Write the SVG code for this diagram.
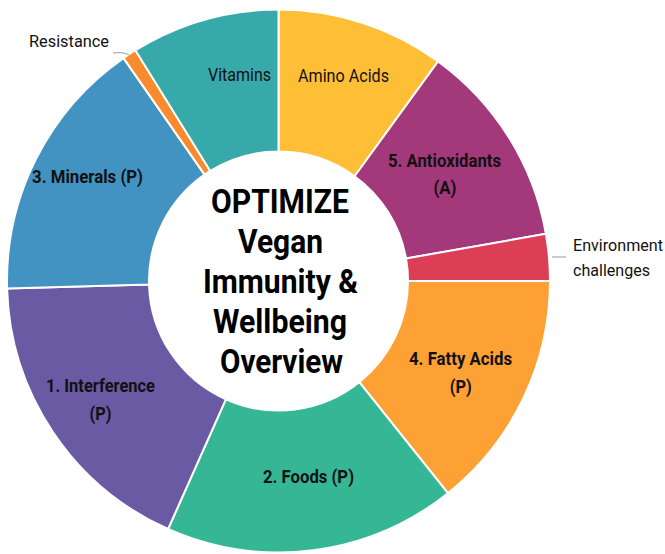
<svg xmlns="http://www.w3.org/2000/svg" width="665" height="554" viewBox="0 0 665 554">
<style>
.seg{stroke:#fff;stroke-width:2;stroke-linejoin:round}
.lbl{font-family:Roboto,"Liberation Sans",sans-serif;font-size:18px;font-weight:bold;fill:#111;text-anchor:middle}
.reg{font-family:Roboto,"Liberation Sans",sans-serif;font-size:17.5px;fill:#111;text-anchor:middle}
.out{font-family:Roboto,"Liberation Sans",sans-serif;font-size:16.5px;fill:#111}
.title{font-family:Roboto,"Liberation Sans",sans-serif;font-size:32.5px;font-weight:bold;fill:#000;text-anchor:middle}
.lead{fill:none;stroke:#999;stroke-width:1}
</style>
<rect width="665" height="554" fill="#fff"/>
<g id="amino-acids">
<path class="seg" fill="#FEBF36" d="M278.5,9.5 A271.5,271.5 0 0 1 438.08,61.35 L354.62,176.23 A129.5,129.5 0 0 0 278.5,151.5 Z"/>
<text class="reg" x="343.5" y="82" textLength="91" lengthAdjust="spacingAndGlyphs">Amino Acids</text>
</g>
<g id="antioxidants">
<path class="seg" fill="#A3387A" d="M438.08,61.35 A271.5,271.5 0 0 1 545.88,233.85 L406.03,258.51 A129.5,129.5 0 0 0 354.62,176.23 Z"/>
<text class="lbl" x="444.5" y="167" textLength="113" lengthAdjust="spacingAndGlyphs">5. Antioxidants</text>
<text class="lbl" x="445" y="194" textLength="23" lengthAdjust="spacingAndGlyphs">(A)</text>
</g>
<g id="environment">
<path class="seg" fill="#DC3F55" d="M545.88,233.85 A271.5,271.5 0 0 1 550,281 L408,281 A129.5,129.5 0 0 0 406.03,258.51 Z"/>
<text class="out" x="573" y="251" textLength="90" lengthAdjust="spacingAndGlyphs">Environment</text>
<text class="out" x="573" y="276" textLength="77" lengthAdjust="spacingAndGlyphs">challenges</text>
</g>
<g id="fatty-acids">
<path class="seg" fill="#FEA135" d="M550,281 A271.5,271.5 0 0 1 447.88,493.18 L359.29,382.21 A129.5,129.5 0 0 0 408,281 Z"/>
<text class="lbl" x="460.5" y="365" textLength="103" lengthAdjust="spacingAndGlyphs">4. Fatty Acids</text>
<text class="lbl" x="460.7" y="393" textLength="22" lengthAdjust="spacingAndGlyphs">(P)</text>
</g>
<g id="foods">
<path class="seg" fill="#35B796" d="M447.88,493.18 A271.5,271.5 0 0 1 168.07,529.03 L225.83,399.3 A129.5,129.5 0 0 0 359.29,382.21 Z"/>
<text class="lbl" x="308.5" y="483" textLength="91" lengthAdjust="spacingAndGlyphs">2. Foods (P)</text>
</g>
<g id="interference">
<path class="seg" fill="#6A59A3" d="M168.07,529.03 A271.5,271.5 0 0 1 7.11,288.58 L149.05,284.62 A129.5,129.5 0 0 0 225.83,399.3 Z"/>
<text class="lbl" x="100.5" y="392" textLength="109" lengthAdjust="spacingAndGlyphs">1. Interference</text>
<text class="lbl" x="100.6" y="420" textLength="22" lengthAdjust="spacingAndGlyphs">(P)</text>
</g>
<g id="minerals">
<path class="seg" fill="#4293C2" d="M7.11,288.58 A271.5,271.5 0 0 1 123.55,58.06 L204.59,174.66 A129.5,129.5 0 0 0 149.05,284.62 Z"/>
<text class="lbl" x="87.5" y="183" textLength="111" lengthAdjust="spacingAndGlyphs">3. Minerals (P)</text>
</g>
<g id="resistance">
<path class="seg" fill="#F98B2D" d="M123.55,58.06 A271.5,271.5 0 0 1 135.43,50.25 L210.26,170.94 A129.5,129.5 0 0 0 204.59,174.66 Z"/>
<text class="out" x="29" y="47" textLength="80" lengthAdjust="spacingAndGlyphs">Resistance</text>
</g>
<g id="vitamins">
<path class="seg" fill="#38A9AB" d="M135.43,50.25 A271.5,271.5 0 0 1 278.5,9.5 L278.5,151.5 A129.5,129.5 0 0 0 210.26,170.94 Z"/>
<text class="reg" x="239.5" y="81" textLength="63" lengthAdjust="spacingAndGlyphs">Vitamins</text>
</g>
<g id="center">
<text class="title" x="280" y="213" textLength="138" lengthAdjust="spacingAndGlyphs">OPTIMIZE</text>
<text class="title" x="280.5" y="253" textLength="85" lengthAdjust="spacingAndGlyphs">Vegan</text>
<text class="title" x="280.5" y="293" textLength="155" lengthAdjust="spacingAndGlyphs">Immunity &amp;</text>
<text class="title" x="280" y="333" textLength="134" lengthAdjust="spacingAndGlyphs">Wellbeing</text>
<text class="title" x="281.5" y="373" textLength="123" lengthAdjust="spacingAndGlyphs">Overview</text>
</g>
<g id="connectors">
<path class="lead" d="M113,53 Q123,51.5 129,55"/>
<line class="lead" x1="552" y1="257" x2="566" y2="257"/>
</g>
</svg>
